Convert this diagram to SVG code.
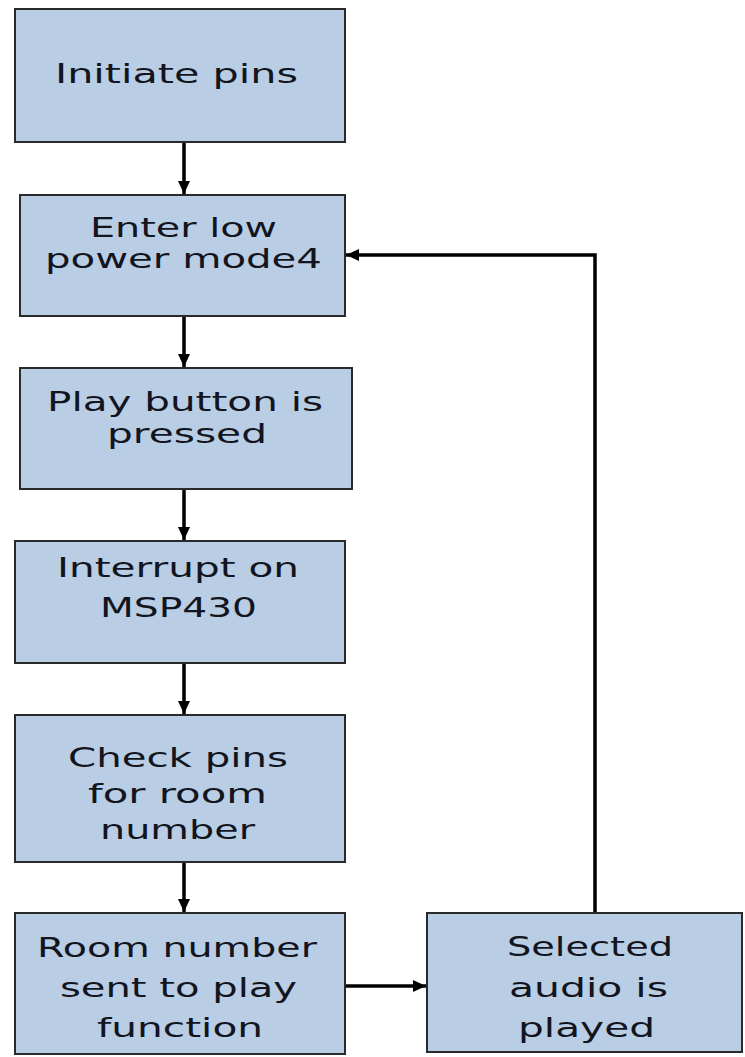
<svg xmlns="http://www.w3.org/2000/svg" width="745" height="1057" viewBox="0 0 745 1057">
<style>
.box{fill:#b9cde4;stroke:#2a2a2a;stroke-width:2}
.t{font-family:"DejaVu Sans","Liberation Sans",sans-serif;font-size:27px;fill:#12141e}
.c{fill:none;stroke:#000;stroke-width:3.5}
</style>
<defs>
<marker id="ah" markerUnits="userSpaceOnUse" markerWidth="14" markerHeight="12" refX="13" refY="6" orient="auto">
<path d="M0,0 L13,6 L0,12 Z" fill="#000"/>
</marker>
</defs>
<rect width="745" height="1057" fill="#fff"/>
<g id="connectors">
<line class="c" x1="184" y1="142" x2="184" y2="194" marker-end="url(#ah)"/>
<line class="c" x1="184" y1="316" x2="184" y2="367" marker-end="url(#ah)"/>
<line class="c" x1="184" y1="489" x2="184" y2="540" marker-end="url(#ah)"/>
<line class="c" x1="184" y1="663" x2="184" y2="714" marker-end="url(#ah)"/>
<line class="c" x1="184" y1="862" x2="184" y2="912" marker-end="url(#ah)"/>
<line class="c" x1="345" y1="986" x2="426" y2="986" marker-end="url(#ah)"/>
<polyline class="c" points="595,913 595,255 346,255" marker-end="url(#ah)"/>
</g>
<g id="n1">
<rect class="box" x="15" y="9" width="330" height="133"/>
<text class="t" x="55" y="83" textLength="243" lengthAdjust="spacingAndGlyphs">Initiate pins</text>
</g>
<g id="n2">
<rect class="box" x="20" y="195" width="325" height="121"/>
<text class="t" x="90" y="237" textLength="187" lengthAdjust="spacingAndGlyphs">Enter low</text>
<text class="t" x="45" y="268" textLength="277" lengthAdjust="spacingAndGlyphs">power mode4</text>
</g>
<g id="n3">
<rect class="box" x="20" y="368" width="332" height="121"/>
<text class="t" x="47" y="411" textLength="276" lengthAdjust="spacingAndGlyphs">Play button is</text>
<text class="t" x="107" y="443" textLength="160" lengthAdjust="spacingAndGlyphs">pressed</text>
</g>
<g id="n4">
<rect class="box" x="15" y="541" width="330" height="122"/>
<text class="t" x="57" y="577" textLength="242" lengthAdjust="spacingAndGlyphs">Interrupt on</text>
<text class="t" x="100" y="617" textLength="157" lengthAdjust="spacingAndGlyphs">MSP430</text>
</g>
<g id="n5">
<rect class="box" x="15" y="715" width="330" height="147"/>
<text class="t" x="68" y="767" textLength="220" lengthAdjust="spacingAndGlyphs">Check pins</text>
<text class="t" x="88" y="803" textLength="179" lengthAdjust="spacingAndGlyphs">for room</text>
<text class="t" x="100" y="839" textLength="155" lengthAdjust="spacingAndGlyphs">number</text>
</g>
<g id="n6">
<rect class="box" x="15" y="913" width="330" height="141"/>
<text class="t" x="37" y="957" textLength="280" lengthAdjust="spacingAndGlyphs">Room number</text>
<text class="t" x="60" y="997" textLength="237" lengthAdjust="spacingAndGlyphs">sent to play</text>
<text class="t" x="97" y="1037" textLength="166" lengthAdjust="spacingAndGlyphs">function</text>
</g>
<g id="n7">
<rect class="box" x="427" y="913" width="315" height="139"/>
<text class="t" x="507" y="956" textLength="166" lengthAdjust="spacingAndGlyphs">Selected</text>
<text class="t" x="509" y="997" textLength="159" lengthAdjust="spacingAndGlyphs">audio is</text>
<text class="t" x="518" y="1037" textLength="137" lengthAdjust="spacingAndGlyphs">played</text>
</g>
</svg>
